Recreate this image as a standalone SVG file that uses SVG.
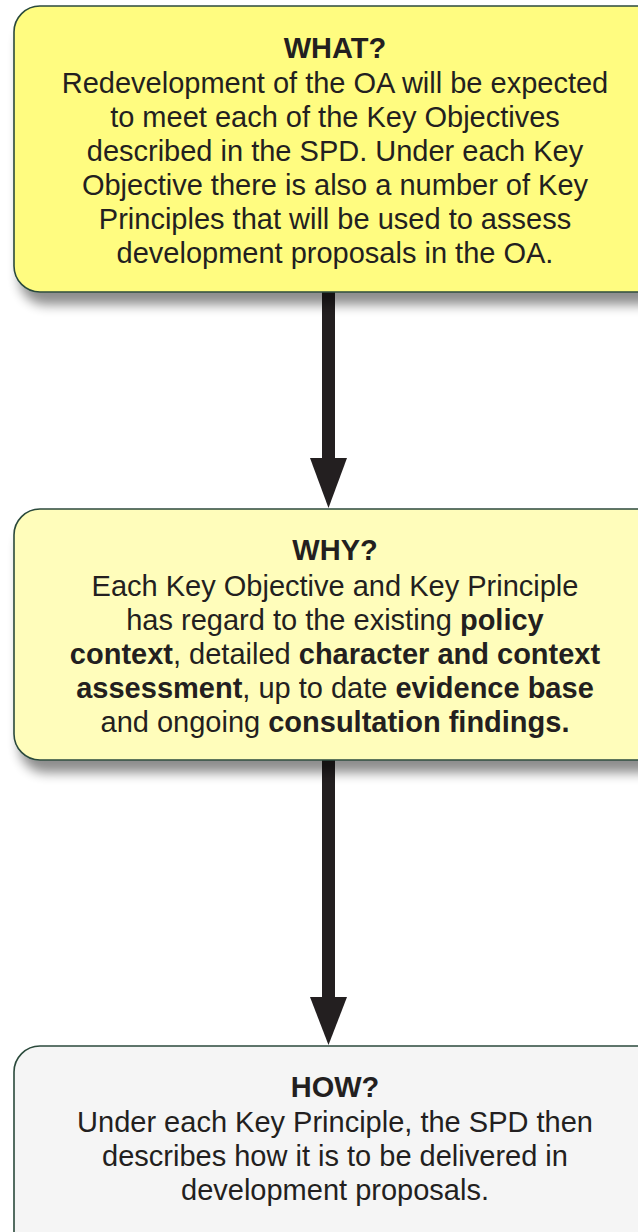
<svg xmlns="http://www.w3.org/2000/svg" width="638" height="1232" viewBox="0 0 638 1232">
<style>
.box{stroke:#2b4a3c;stroke-width:1.6}
.t{font-family:"Liberation Sans",Arial,sans-serif;font-size:29px;fill:#231f20;text-anchor:middle}
.b{font-weight:bold}
.arrow{fill:#231f20}
</style>
<defs>
<filter id="sh" x="-10%" y="-10%" width="120%" height="130%">
<feGaussianBlur in="SourceAlpha" stdDeviation="6"/>
<feOffset dx="6" dy="12"/>
<feComponentTransfer><feFuncA type="linear" slope="0.45"/></feComponentTransfer>
<feMerge><feMergeNode/><feMergeNode in="SourceGraphic"/></feMerge>
</filter>
</defs>
<g id="connectors">
<g id="arrow1">
<rect class="arrow" x="322" y="292" width="13" height="168"/>
<polygon class="arrow" points="310,458 347,458 328.5,508"/>
</g>
<g id="arrow2">
<rect class="arrow" x="322" y="760" width="13" height="240"/>
<polygon class="arrow" points="310,997 347,997 328.5,1045"/>
</g>
</g>
<g id="what">
<rect class="box" x="14" y="6" width="650" height="286" rx="26" fill="#fffc80" filter="url(#sh)"/>
<text class="t b" x="335" y="58">WHAT?</text>
<text class="t" x="335" y="93">Redevelopment of the OA will be expected</text>
<text class="t" x="335" y="127">to meet each of the Key Objectives</text>
<text class="t" x="335" y="161">described in the SPD. Under each Key</text>
<text class="t" x="335" y="195">Objective there is also a number of Key</text>
<text class="t" x="335" y="229">Principles that will be used to assess</text>
<text class="t" x="335" y="263">development proposals in the OA.</text>
</g>
<g id="why">
<rect class="box" x="14" y="509" width="650" height="251" rx="26" fill="#fffdbb" filter="url(#sh)"/>
<text class="t b" x="335" y="560">WHY?</text>
<text class="t" x="335" y="596">Each Key Objective and Key Principle</text>
<text class="t" x="335" y="630">has regard to the existing <tspan class="b">policy</tspan></text>
<text class="t" x="335" y="664"><tspan class="b">context</tspan>, detailed <tspan class="b">character and context</tspan></text>
<text class="t" x="335" y="698"><tspan class="b">assessment</tspan>, up to date <tspan class="b">evidence base</tspan></text>
<text class="t" x="335" y="732">and ongoing <tspan class="b">consultation findings.</tspan></text>
</g>
<g id="how">
<rect class="box" x="14" y="1046" width="650" height="220" rx="26" fill="#f5f5f5"/>
<text class="t b" x="335" y="1097">HOW?</text>
<text class="t" x="335" y="1132">Under each Key Principle, the SPD then</text>
<text class="t" x="335" y="1166">describes how it is to be delivered in</text>
<text class="t" x="335" y="1200">development proposals.</text>
</g>
</svg>
